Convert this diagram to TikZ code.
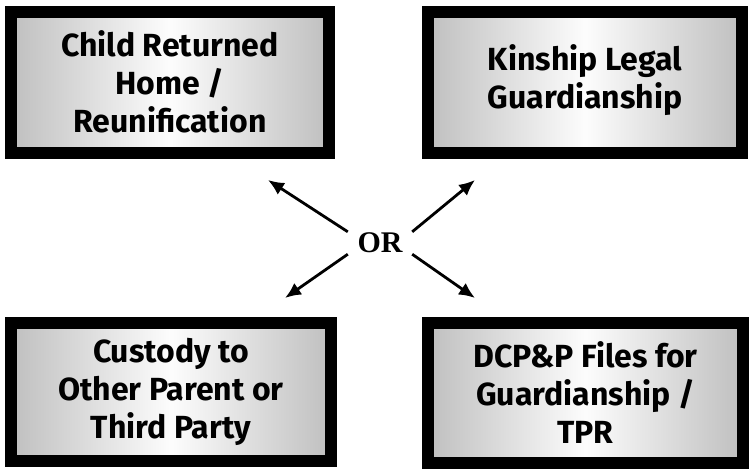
\documentclass[tikz,border=0pt]{standalone}
\usepackage{fontspec}
\setmainfont{Fira Sans}
\newfontfamily\orfont{Liberation Serif}
\usetikzlibrary{arrows.meta}
\begin{document}
\begin{tikzpicture}[x=1pt,y=-1pt,
  outcome/.style={draw=black, line width=12pt, minimum width=316pt, minimum height=141pt,
    left color=gray!50, right color=gray!50, middle color=white!98!gray,
    align=center, font=\fontsize{32}{38}\selectfont\bfseries, inner sep=0pt},
  arr/.style={line width=2.8pt, -{Latex[length=16pt,width=14pt]}}]
\useasboundingbox (0,0) rectangle (749,469);
\node[outcome, minimum width=318pt] (tl) at (170,82) {Child Returned\\Home /\\Reunification};
\node[outcome, minimum width=314pt] (tr) at (585,82) {\raisebox{-6pt}{\begin{tabular}{@{}c@{}}Kinship Legal\\Guardianship\end{tabular}}};
\node[outcome, minimum width=320pt, minimum height=138pt] (bl) at (171,392) {Custody to\\Other Parent or\\Third Party};
\node[outcome, minimum width=315pt, minimum height=140pt] (br) at (585.5,393) {DCP\&P Files for\\Guardianship /\\TPR};
\node[font=\orfont\fontsize{30}{30}\selectfont\bfseries, minimum width=64pt, minimum height=22pt, inner sep=0pt] (or) at (380,243) {OR};
\coordinate (ptl) at (268,180);
\coordinate (ptr) at (475,180);
\coordinate (pbl) at (285,298);
\coordinate (pbr) at (475,298);
\draw[arr] (or.north west) -- (ptl);
\draw[arr] (or.north east) -- (ptr);
\draw[arr] (or.south west) -- (pbl);
\draw[arr] (or.south east) -- (pbr);
\end{tikzpicture}
\end{document}
